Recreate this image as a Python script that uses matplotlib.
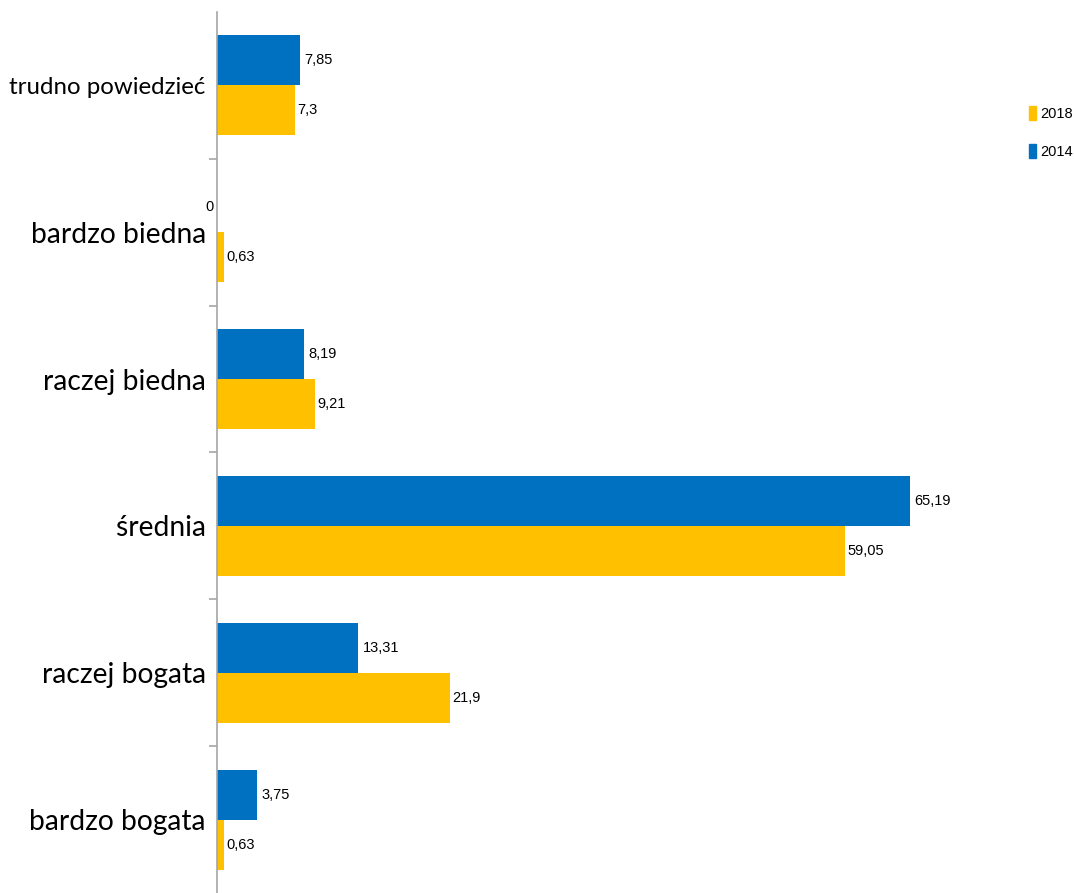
import numpy as np
import matplotlib.pyplot as plt
from matplotlib.patches import Patch

plt.rcParams['font.family'] = ['Liberation Sans', 'DejaVu Sans']

categories = ['bardzo bogata', 'raczej bogata', 'średnia', 'raczej biedna',
              'bardzo biedna', 'trudno powiedzieć']
v2014 = [3.75, 13.31, 65.19, 8.19, 0, 7.85]
v2018 = [0.63, 21.9, 59.05, 9.21, 0.63, 7.3]
blue = '#0070C0'
gold = '#FFC000'

fig = plt.figure(figsize=(10.74, 8.93), dpi=100)
ax = fig.add_axes([0.2020, 0.0, 0.6930, 0.9866])

y = np.arange(len(categories))
h = 0.34
ax.barh(y + h / 2, v2014, height=h, color=blue, label='2014')
ax.barh(y - h / 2, v2018, height=h, color=gold, label='2018')

def fmt(v):
    return ('%g' % v).replace('.', ',')

for yi, v in zip(y, v2014):
    dx = 3 if v > 0 else -8
    ax.annotate(fmt(v), (v, yi + h / 2), xytext=(dx, 0), textcoords='offset points',
                va='center', ha='left', fontsize=10.5)
for yi, v in zip(y, v2018):
    ax.annotate(fmt(v), (v, yi - h / 2), xytext=(2, 0), textcoords='offset points',
                va='center', ha='left', fontsize=10.5)

ax.set_xlim(0, 70)
ax.set_ylim(-0.5, len(categories) - 0.5)
ax.set_yticks(y)
ax.set_yticklabels(categories, fontsize=20.3, family=['Lato', 'DejaVu Sans'])
# the longest label is wider in Lato than in the original font
ax.get_yticklabels()[-1].set_fontsize(17.3)
ax.tick_params(axis='y', which='major', length=0, pad=8)
ax.set_yticks(np.arange(0.5, len(categories) - 0.5), minor=True)
ax.tick_params(axis='y', which='minor', length=6, color='#A6A6A6', width=1.2)
ax.set_xticks([])
for s in ['top', 'right', 'bottom']:
    ax.spines[s].set_visible(False)
ax.spines['left'].set_color('#A6A6A6')
ax.spines['left'].set_linewidth(1.2)

handles = [Patch(color=gold, label='2018'), Patch(color=blue, label='2014')]
fig.legend(handles=handles, loc='upper left', bbox_to_anchor=(0.949, 0.893),
           frameon=False, fontsize=10.5, handlelength=0.45, handleheight=1.1,
           handletextpad=0.3, labelspacing=1.6, borderpad=0.2)

fig.savefig('out.png', dpi=100)
